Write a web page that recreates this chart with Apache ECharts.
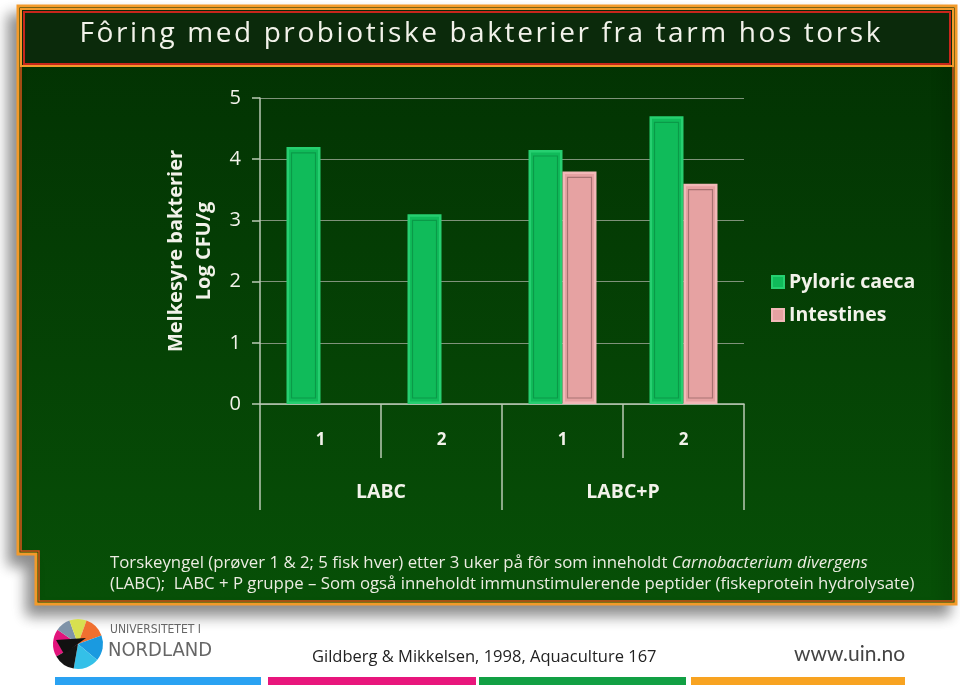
<!DOCTYPE html>
<html>
<head>
<meta charset="utf-8">
<script src="https://cdn.jsdelivr.net/npm/echarts@6/dist/echarts.min.js"></script>
<style>
html,body{margin:0;padding:0;background:#ffffff;}
#chart{width:960px;height:685px;}
</style>
</head>
<body>
<div id="chart"></div>
<script>
// ---- data ----
const sampleLabels = ['1', '2', '1', '2'];
const groupLabels = ['LABC', 'LABC+P'];
const seriesNames = ['Pyloric caeca', 'Intestines'];
const pyloricCaeca = [4.2, 3.1, 4.15, 4.7];
const intestines = [null, null, 3.8, 3.6];
const yTicks = { min: 0, max: 5, interval: 1 };

const titleText = 'Fôring med probiotiske bakterier fra tarm hos torsk';
const yAxisName = 'Melkesyre bakterier\nLog CFU/g';
const captionLine1a = 'Torskeyngel (prøver 1 & 2; 5 fisk hver) etter 3 uker på fôr som inneholdt ';
const captionLine1b = 'Carnobacterium divergens';
const captionLine2 = '(LABC);  LABC + P gruppe – Som også inneholdt immunstimulerende peptider (fiskeprotein hydrolysate)';
const sourceText = 'Gildberg & Mikkelsen, 1998, Aquaculture 167';
const urlText = 'www.uin.no';
const uniLine1 = 'UNIVERSITETET I';
const uniLine2 = 'NORDLAND';

// ---- styles ----
const GREEN = '#10bb5a';
const GREEN_EDGE = '#26cf70';
const GREEN_LINE = '#0a9a48';
const PINK = '#e6a2a2';
const PINK_EDGE = '#f2b8b8';
const PINK_LINE = '#a87272';
const AXIS = '#b9c9b4';
const GRIDLINE = '#7f927a';
const FONT = '"Open Sans", Lato, sans-serif';
const BAR_W = 34;

const chart = echarts.init(document.getElementById('chart'), null, { renderer: 'canvas' });

function bevel(offsetSign, lineColor) {
  return function (params, api) {
    const v = api.value(1);
    if (v == null || isNaN(v)) return null;
    const top = api.coord([api.value(0), v]);
    const base = api.coord([api.value(0), 0]);
    const x0 = top[0] + offsetSign * BAR_W / 2 - BAR_W / 2;
    return {
      type: 'rect',
      shape: { x: x0 + 5, y: top[1] + 6, width: BAR_W - 10, height: base[1] - top[1] - 12 },
      style: { fill: 'none', stroke: lineColor, lineWidth: 1.2 }
    };
  };
}

// letter-spaced title via rich tokens
function spaced(str) {
  return str.split('').map(ch => '{c|' + (ch === ' ' ? '\u00a0' : ch) + '}').join('');
}

const logoCx = 78, logoCy = 644, logoR = 25;
function sector(r0, a0, a1, color) {
  return {
    type: 'sector', z: 5,
    shape: { cx: logoCx, cy: logoCy, r0: 0, r: r0, startAngle: a0 * Math.PI / 180, endAngle: a1 * Math.PI / 180 },
    style: { fill: color }
  };
}

const option = {
  backgroundColor: '#ffffff',
  animation: false,
  textStyle: { fontFamily: FONT },
  graphic: [
    {
      type: 'polygon', z: -20,
      shape: { points: [[18, 6], [956, 6], [956, 604], [36, 604], [36, 554], [18, 554]] },
      style: {
        fill: new echarts.graphic.LinearGradient(0, 0, 0, 1, [
          { offset: 0, color: '#023002' },
          { offset: 1, color: '#075007' }
        ]),
        stroke: '#f39a2a', lineWidth: 3,
        shadowBlur: 14, shadowColor: 'rgba(0,0,0,0.45)', shadowOffsetX: -8, shadowOffsetY: 10
      }
    },
    {
      type: 'polygon', z: -19,
      shape: { points: [[21, 9], [953, 9], [953, 601], [39, 601], [39, 551], [21, 551]] },
      style: { fill: 'none', stroke: '#d8541a', lineWidth: 1.5 }
    },
    {
      type: 'rect', z: -18,
      shape: { x: 21, y: 9, width: 932, height: 57 },
      style: { fill: '#0b2a0b', stroke: '#f39a2a', lineWidth: 2 }
    },
    {
      type: 'rect', z: -17,
      shape: { x: 24, y: 12, width: 926, height: 52 },
      style: { fill: 'none', stroke: '#c8261c', lineWidth: 2 }
    },
    {
      type: 'text', z: 10, left: 'center', top: 20,
      style: {
        text: spaced(titleText),
        rich: { c: { fill: '#f2f2ea', fontSize: 28, fontWeight: 500, fontFamily: FONT, padding: [0, 1.3, 0, 1.3] } }
      }
    },
    {
      type: 'text', z: 10, left: 110, top: 555,
      style: {
        text: '{n|' + captionLine1a + '}{i|' + captionLine1b + '}',
        rich: {
          n: { fill: '#ecece2', fontSize: 16.8, fontFamily: FONT },
          i: { fill: '#ecece2', fontSize: 16.8, fontFamily: FONT, fontStyle: 'italic' }
        }
      }
    },
    {
      type: 'text', z: 10, left: 110, top: 576,
      style: { text: captionLine2, fill: '#ecece2', font: '16.8px ' + FONT }
    },
    sector(logoR, 150, 215, '#e2147c'),
    sector(logoR, 215, 250, '#7f93a8'),
    sector(logoR, 250, 290, '#d8e050'),
    sector(logoR, 290, 340, '#f07030'),
    sector(logoR, 340, 400, '#1a9ae0'),
    sector(logoR, 400, 460, '#34c0e8'),
    sector(logoR, 460, 510, '#141414'),
    {
      type: 'polygon', z: 6,
      shape: { points: [[logoCx + 8, logoCy - 6], [logoCx - 22, logoCy - 4], [logoCx - 14, logoCy + 10]] },
      style: { fill: '#111111' }
    },
    {
      type: 'text', z: 10, left: 110, top: 624,
      style: { text: uniLine1, fill: '#666666', font: '12px "Liberation Sans Narrow", "DejaVu Sans Condensed", sans-serif' }
    },
    {
      type: 'text', z: 10, left: 108, top: 641,
      style: { text: uniLine2, fill: '#666666', font: '20px "Liberation Sans Narrow", "DejaVu Sans Condensed", sans-serif' }
    },
    {
      type: 'text', z: 10, left: 312, top: 649,
      style: { text: sourceText, fill: '#222222', font: '16.5px ' + FONT }
    },
    {
      type: 'text', z: 10, left: 794, top: 644,
      style: { text: urlText, fill: '#444444', font: '21px Lato, ' + FONT }
    },
    { type: 'rect', z: 5, shape: { x: 55, y: 677, width: 206, height: 8 }, style: { fill: '#2aa2f2' } },
    { type: 'rect', z: 5, shape: { x: 268, y: 677, width: 208, height: 8 }, style: { fill: '#e8167c' } },
    { type: 'rect', z: 5, shape: { x: 479, y: 677, width: 207, height: 8 }, style: { fill: '#12a044' } },
    { type: 'rect', z: 5, shape: { x: 691, y: 677, width: 214, height: 8 }, style: { fill: '#f8a321' } }
  ],
  legend: {
    data: seriesNames,
    orient: 'vertical',
    left: 766,
    top: 267,
    itemWidth: 12,
    itemHeight: 12,
    itemGap: 13,
    icon: 'rect',
    textStyle: { color: '#f2f2ea', fontSize: 19.5, fontWeight: 'bold', fontFamily: FONT }
  },
  grid: { left: 260, right: 216, top: 98, bottom: 281, containLabel: false },
  xAxis: [
    {
      type: 'category',
      data: sampleLabels,
      axisLine: { show: true, lineStyle: { color: AXIS, width: 1.5 } },
      axisTick: { show: true, length: 54, interval: 0, lineStyle: { color: AXIS, width: 1.5 } },
      axisLabel: { color: '#f2f2ea', fontSize: 17, fontWeight: 'bold', margin: 28, fontFamily: FONT },
      splitLine: { show: false }
    },
    {
      type: 'category',
      data: groupLabels,
      position: 'bottom',
      axisLine: { show: false },
      axisTick: { show: true, length: 106, interval: 0, lineStyle: { color: AXIS, width: 1.5 } },
      axisLabel: { color: '#f2f2ea', fontSize: 19.5, fontWeight: 'bold', margin: 78, fontFamily: FONT },
      splitLine: { show: false }
    }
  ],
  yAxis: {
    type: 'value',
    min: yTicks.min,
    max: yTicks.max,
    interval: yTicks.interval,
    name: yAxisName,
    nameLocation: 'middle',
    nameRotate: 90,
    nameGap: 42,
    nameTextStyle: { color: '#f2f2ea', fontSize: 20, fontWeight: 'bold', lineHeight: 28, fontFamily: FONT },
    axisLine: { show: true, lineStyle: { color: AXIS, width: 1.5 } },
    axisTick: { show: true, length: 8, lineStyle: { color: AXIS, width: 1.5 } },
    axisLabel: { color: '#f2f2ea', fontSize: 20, margin: 19, fontFamily: FONT },
    splitLine: { show: true, lineStyle: { color: GRIDLINE, width: 1 } }
  },
  series: [
    {
      name: seriesNames[0],
      type: 'bar',
      xAxisIndex: 0,
      data: pyloricCaeca,
      barWidth: BAR_W,
      barGap: '0%',
      itemStyle: { color: GREEN, borderColor: GREEN_EDGE, borderWidth: 2.5 },
      z: 3
    },
    {
      name: seriesNames[1],
      type: 'bar',
      xAxisIndex: 0,
      data: intestines,
      barWidth: BAR_W,
      barGap: '0%',
      itemStyle: { color: PINK, borderColor: PINK_EDGE, borderWidth: 2.5 },
      z: 3
    },
    {
      type: 'custom',
      xAxisIndex: 0,
      z: 4,
      silent: true,
      data: pyloricCaeca.map((v, i) => [i, v]),
      encode: { x: 0, y: 1 },
      renderItem: bevel(-1, GREEN_LINE)
    },
    {
      type: 'custom',
      xAxisIndex: 0,
      z: 4,
      silent: true,
      data: intestines.map((v, i) => [i, v]),
      encode: { x: 0, y: 1 },
      renderItem: bevel(1, PINK_LINE)
    }
  ]
};

chart.setOption(option);
</script>
</body>
</html>
